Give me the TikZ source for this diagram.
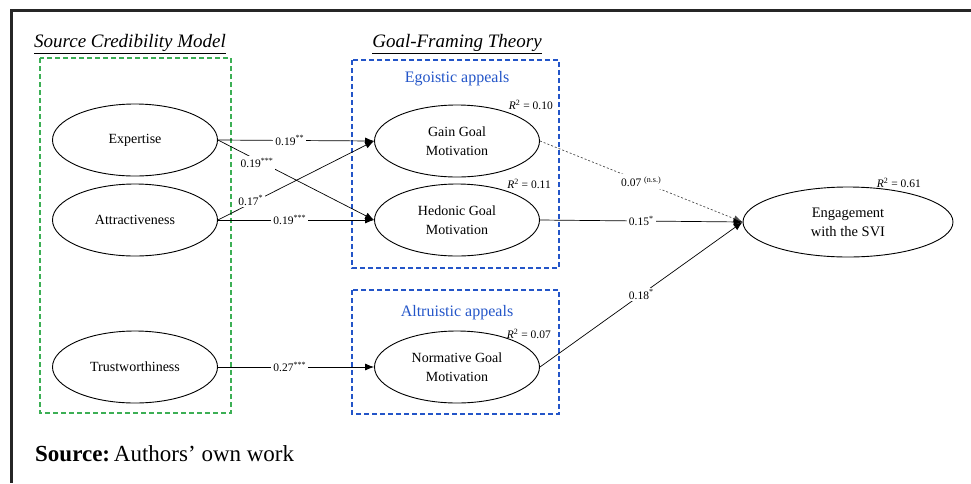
\documentclass[tikz,border=0pt]{standalone}
\usepackage{fontspec}
\setmainfont{Liberation Serif}
\usetikzlibrary{arrows.meta,shapes.geometric}
\definecolor{dgreen}{RGB}{60,175,85}
\definecolor{dblue}{RGB}{35,85,200}
\begin{document}
\begin{tikzpicture}[x=1pt,y=-1pt,
  lat/.style={draw, ellipse, minimum width=165pt, minimum height=72pt, inner sep=0pt,
    font=\fontsize{14}{18.5}\selectfont, align=center, line width=0.9pt},
  bigl/.style={lat, minimum width=210pt, minimum height=70pt, font=\fontsize{14.5}{19}\selectfont},
  pth/.style={-{Latex[length=9pt,width=7pt]}, line width=0.7pt},
  nspath/.style={pth, dash pattern=on 2pt off 2pt, draw=black!70},
  coef/.style={fill=white, font=\fontsize{11.5}{13}\selectfont, inner sep=2pt},
  rsq/.style={anchor=east, font=\fontsize{11.5}{13}\selectfont, inner sep=0pt},
  gbox/.style={draw=dgreen, line width=1.5pt, dash pattern=on 5pt off 3pt},
  bbox/.style={draw=dblue, line width=1.2pt, dash pattern=on 5pt off 3pt},
  ttl/.style={font=\fontsize{19}{21}\selectfont\itshape},
  appeal/.style={text=dblue, font=\fontsize{16}{18}\selectfont}]
\useasboundingbox (0,0) rectangle (971,483);
% frame
\draw[line width=3pt, black!85] (971,10) -- (11,10) -- (11,483);
% group boxes
\draw[gbox] (40,58) rectangle (231,413);
\draw[bbox] (352,60) rectangle (559,268);
\draw[bbox] (352,290) rectangle (559,414);
% titles
\node[ttl] (t1) at (130,44) {\underline{Source Credibility Model}};
\node[ttl] (t2) at (457,44) {\underline{Goal-Framing Theory}};
\node[appeal] (ego) at (457,79) {Egoistic appeals};
\node[appeal] (alt) at (457,313) {Altruistic appeals};
% latent variables
\node[lat] (exp) at (135,140) {Expertise};
\node[lat] (att) at (135,220) {Attractiveness};
\node[lat] (tru) at (135,367) {Trustworthiness};
\node[lat] (gain) at (457,141) {Gain Goal\\Motivation};
\node[lat] (hed) at (457,220) {Hedonic Goal\\Motivation};
\node[lat] (nor) at (457,367) {Normative Goal\\Motivation};
\node[bigl] (eng) at (848,222) {Engagement\\with the SVI};
% R squared
\node[rsq] (r1) at (553,105) {\textit{R}\textsuperscript{2} = 0.10};
\node[rsq] (r2) at (551,184) {\textit{R}\textsuperscript{2} = 0.11};
\node[rsq] (r3) at (551,334) {\textit{R}\textsuperscript{2} = 0.07};
\node[rsq] (r4) at (921,183) {\textit{R}\textsuperscript{2} = 0.61};
% paths
\draw[pth] (exp.east) -- node[coef, pos=0.46] {0.19\textsuperscript{**}} (gain.west);
\draw[pth] (exp.east) -- node[coef, pos=0.25, yshift=-3pt] {0.19\textsuperscript{***}} (hed.west);
\draw[pth] (att.east) -- node[coef, pos=0.21, yshift=3pt] {0.17\textsuperscript{*}} (gain.west);
\draw[pth] (att.east) -- node[coef, pos=0.46] {0.19\textsuperscript{***}} (hed.west);
\draw[pth] (tru.east) -- node[coef, pos=0.46] {0.27\textsuperscript{***}} (nor.west);
\draw[nspath] (gain.east) -- node[coef, pos=0.5] {0.07 \textsuperscript{(n.s.)}} (eng.west);
\draw[pth] (hed.east) -- node[coef, pos=0.5] {0.15\textsuperscript{*}} (eng.west);
\draw[pth] (nor.east) -- node[coef, pos=0.5] {0.18\textsuperscript{*}} (eng.west);
% source
\node[anchor=base west, inner sep=0pt, font=\fontsize{23}{26}\selectfont] (src) at (35,461.7) {\textbf{Source:}\,Authors’ own work};
\end{tikzpicture}
\end{document}
